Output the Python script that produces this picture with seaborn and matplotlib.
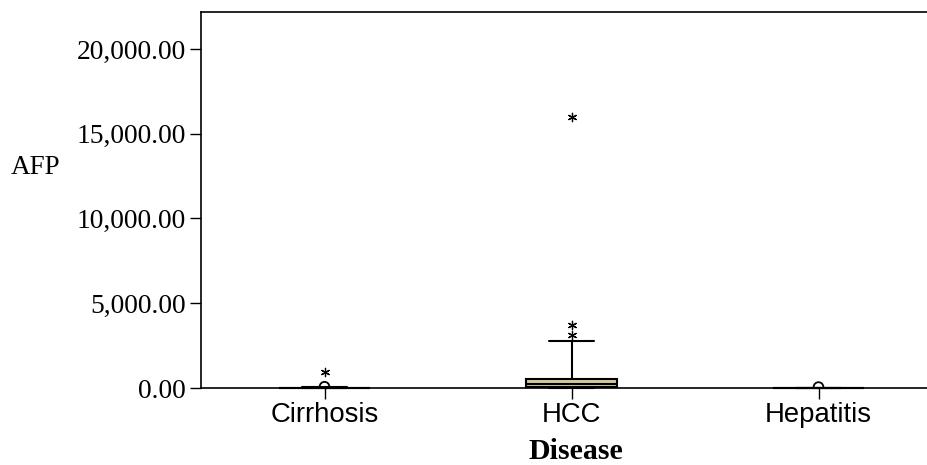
import numpy as np
import pandas as pd
import matplotlib
matplotlib.use("Agg")
import matplotlib.pyplot as plt
from matplotlib.ticker import FuncFormatter, FixedLocator
import seaborn as sns

# Disease groups on the x axis
diseases = ["Cirrhosis", "HCC", "Hepatitis"]

# AFP observations inside the whiskers, per group
cirrhosis_afp = [1, 3, 5, 8, 12, 18, 26, 35, 48]
hcc_afp = [3, 12, 25, 60, 110, 240, 380, 480, 580, 1200, 2773]
hepatitis_afp = [1, 2, 3, 5, 7, 9, 12, 15, 20]

# Points beyond the whiskers: group, AFP value, kind ("outlier" = circle, "extreme" = star)
flier_disease = ["Cirrhosis", "Cirrhosis", "HCC", "HCC", "HCC", "Hepatitis"]
flier_afp = [75, 950, 3130, 3717, 16000, 55]
flier_kind = ["outlier", "extreme", "extreme", "extreme", "extreme", "outlier"]

# Y axis ticks
y_ticks = [0, 5000, 10000, 15000, 20000]

box_df = pd.DataFrame({
    "Disease": (["Cirrhosis"] * len(cirrhosis_afp) + ["HCC"] * len(hcc_afp)
                + ["Hepatitis"] * len(hepatitis_afp)),
    "AFP": cirrhosis_afp + hcc_afp + hepatitis_afp,
})
flier_df = pd.DataFrame({"Disease": flier_disease, "AFP": flier_afp, "kind": flier_kind})

sns.set_theme(style="white")
plt.rcParams["font.family"] = ["Liberation Serif", "DejaVu Serif"]

fig = plt.figure(figsize=(9.28, 4.65), dpi=100)
W, H = 928, 465
ax_left, ax_right, ax_top, ax_bottom = 201, 942, 12, 388
ax = fig.add_axes([ax_left / W, 1 - ax_bottom / H,
                   (ax_right - ax_left) / W, (ax_bottom - ax_top) / H])

sns.boxplot(data=box_df, x="Disease", y="AFP", order=diseases, ax=ax,
            color="#D3CB9B", linecolor="black", linewidth=1.5, width=0.365,
            whis=np.inf, showfliers=False, fill=True, saturation=1)
# boxes sitting on zero should not be cut by the axes edge
for art in list(ax.patches) + list(ax.lines):
    art.set_clip_on(False)

circ = flier_df[flier_df["kind"] == "outlier"]
ext = flier_df[flier_df["kind"] == "extreme"]
sns.stripplot(data=circ, x="Disease", y="AFP", order=diseases, ax=ax,
              jitter=False, marker="o", size=7, facecolors="none",
              edgecolor="black", linewidth=1.3, zorder=5)
sns.stripplot(data=ext, x="Disease", y="AFP", order=diseases, ax=ax,
              jitter=False, marker=(6, 2, 0), size=6, color="black",
              linewidth=0.9, zorder=5)

ax.set_xlim(-0.5, 2.5)
ax.set_ylim(0, 22180)
ax.yaxis.set_major_locator(FixedLocator(y_ticks))
ax.yaxis.set_major_formatter(FuncFormatter(lambda v, p: f"{v:,.2f}"))

for side in ["top", "left", "bottom", "right"]:
    ax.spines[side].set_visible(True)
    ax.spines[side].set_color("black")
    ax.spines[side].set_linewidth(1.2)
    ax.spines[side].set_zorder(1)

ax.tick_params(axis="both", which="major", direction="out", length=8,
               width=1.0, color="black", left=True, bottom=True)
ax.tick_params(axis="y", pad=3, labelsize=19.8)
ax.tick_params(axis="x", pad=2, labelsize=19.8)
for lab in ax.get_yticklabels():
    lab.set_fontfamily(["Liberation Serif"])
    lab.set_color("black")
for lab in ax.get_xticklabels():
    lab.set_fontfamily(["Liberation Sans"])
    lab.set_color("black")

ax.set_xlabel("")
ax.set_ylabel("")
fig.text(36 / W, 1 - 167 / H, "AFP", ha="center", va="center",
         fontsize=19.5, family=["Liberation Serif"], color="black")
fig.text(576 / W, 1 - 451 / H, "Disease", ha="center", va="center",
         fontsize=21.5, fontweight="bold", family=["Liberation Serif"], color="black")

fig.savefig("out.png", dpi=100)
